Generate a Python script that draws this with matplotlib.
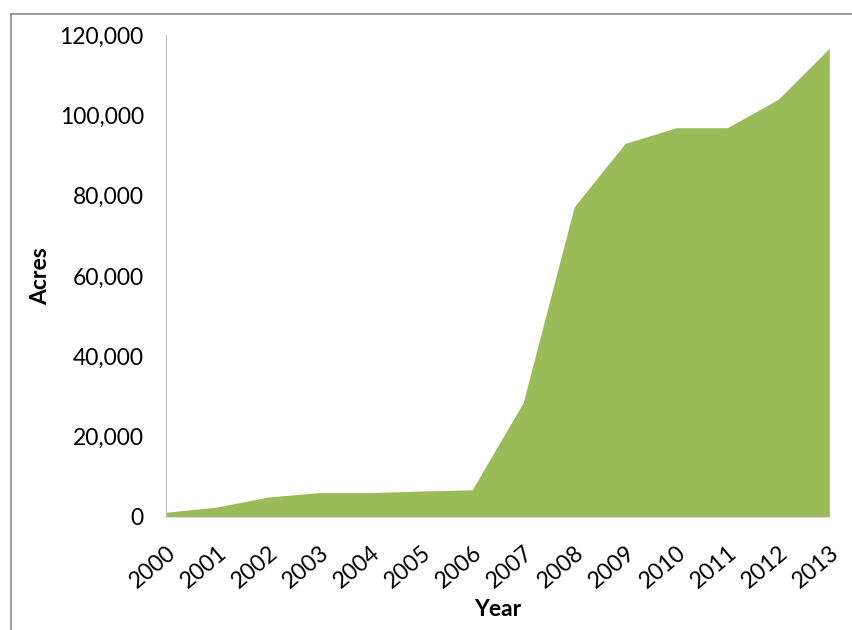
import matplotlib
matplotlib.use("Agg")
import matplotlib.pyplot as plt
from matplotlib.lines import Line2D
from matplotlib.ticker import FuncFormatter

years = [2000, 2001, 2002, 2003, 2004, 2005, 2006, 2007, 2008, 2009, 2010, 2011, 2012, 2013]
acres = [1100, 2400, 4900, 6000, 6000, 6400, 6700, 28400, 77200, 93000, 96900, 96900, 104000, 116700]
yticks = [0, 20000, 40000, 60000, 80000, 100000, 120000]

plt.rcParams['font.family'] = ['Lato', 'DejaVu Sans']

fig = plt.figure(figsize=(8.52, 6.3), dpi=100)
ax = fig.add_axes([166/852, 1-516.7/630, (829.3-166)/852, (516.7-35)/630])

ax.fill_between(years, acres, 0, color='#9BBB59', linewidth=0)
ax.set_xlim(years[0], years[-1])
ax.set_ylim(0, 120000)
ax.set_yticks(yticks)
ax.yaxis.set_major_formatter(FuncFormatter(lambda v, p: f"{int(v):,}"))
ax.set_xticks(years)
ax.set_xticklabels([str(y) for y in years], rotation=40, ha='right', rotation_mode='anchor')

for s in ['top', 'right']:
    ax.spines[s].set_visible(False)
ax.spines['left'].set_color('#BFBFBF')
ax.spines['bottom'].set_color('#D9D9D9')
ax.tick_params(axis='both', length=0, labelsize=16.5, colors='#000000')
ax.tick_params(axis='y', pad=16)
ax.tick_params(axis='x', pad=18)

ax.set_ylabel('Acres', fontsize=16.5, fontweight='bold')
ax.yaxis.set_label_coords(-(166-51)/(829.3-166), 0.5)
ax.set_xlabel('Year', fontsize=16.5, fontweight='bold')
ax.xaxis.set_label_coords((498-166)/(829.3-166), -(599-516.7)/(516.7-35))

# outer border (chart area frame)
fig.add_artist(Line2D([10.5/852, 1], [1-13.5/630, 1-13.5/630], color='#8C8C8C', lw=1.2, transform=fig.transFigure))
fig.add_artist(Line2D([10.5/852, 10.5/852], [0, 1-13.5/630], color='#8C8C8C', lw=1.2, transform=fig.transFigure))

fig.savefig('out.png', dpi=100, facecolor='white')
